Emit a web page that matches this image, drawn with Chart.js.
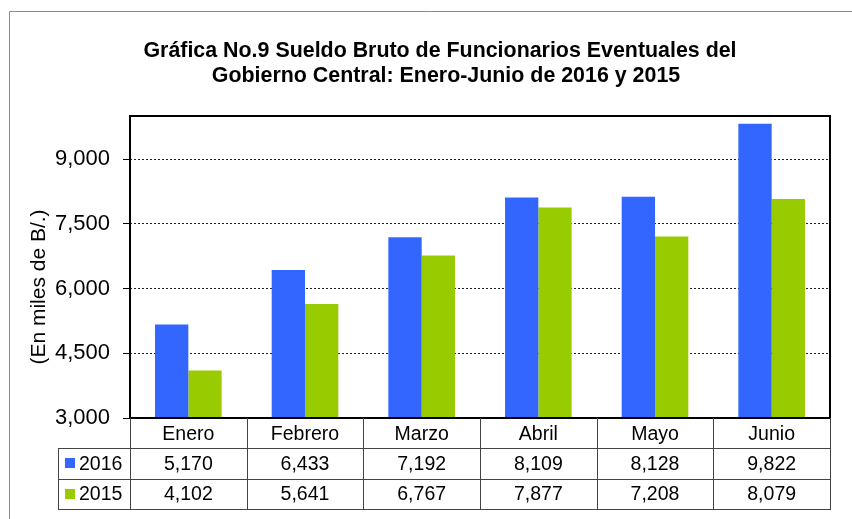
<!DOCTYPE html>
<html>
<head>
<meta charset="utf-8">
<script src="https://cdn.jsdelivr.net/npm/chart.js@4/dist/chart.umd.min.js"></script>
<style>
  html, body { margin: 0; padding: 0; background: #fff; }
  canvas { display: block; }
</style>
</head>
<body>
<canvas id="c" width="852" height="519"></canvas>
<script>
const titleLines = ["Gráfica No.9 Sueldo Bruto de Funcionarios Eventuales del", "Gobierno Central: Enero-Junio de 2016 y 2015"];
const yAxisTitle = "(En miles de B/.)";
const months = ["Enero", "Febrero", "Marzo", "Abril", "Mayo", "Junio"];
const seriesNames = ["2016", "2015"];
const values2016 = [5170, 6433, 7192, 8109, 8128, 9822];
const values2015 = [4102, 5641, 6767, 7877, 7208, 8079];
const yTicks = [3000, 4500, 6000, 7500, 9000];
const yMin = 3000, yMax = 10000;

const FONT = "'Liberation Sans', Arial, sans-serif";
const colors = ["#3366FF", "#99CC00"];
const fmt = v => v.toLocaleString('en-US');

const decor = {
  id: 'decor',
  afterDatasetsDraw(chart) {
    const ctx = chart.ctx, a = chart.chartArea;
    ctx.save();
    ctx.strokeStyle = '#000';
    ctx.lineWidth = 2;
    ctx.strokeRect(a.left, a.top, a.right - a.left, a.bottom - a.top);
    ctx.restore();
  },
  afterDraw(chart) {
    const ctx = chart.ctx, a = chart.chartArea, xs = chart.scales.x;
    ctx.save();
    // outer border
    ctx.strokeStyle = '#8a8a8a';
    ctx.lineWidth = 1;
    ctx.beginPath();
    ctx.moveTo(9.5, 519); ctx.lineTo(9.5, 11.5); ctx.lineTo(852, 11.5);
    ctx.stroke();

    // title
    ctx.fillStyle = '#000';
    ctx.textAlign = 'center';
    ctx.textBaseline = 'middle';
    ctx.font = "bold 21.4px " + FONT;
    ctx.fillText(titleLines[0], 440, 51);
    ctx.fillText(titleLines[1], 446, 76);

    // y axis title
    ctx.save();
    ctx.translate(39, 287);
    ctx.rotate(-Math.PI / 2);
    ctx.font = "21px " + FONT;
    ctx.fillText(yAxisTitle, 0, 0);
    ctx.restore();

    // data table
    const n = months.length;
    const cw = (a.right - a.left) / n;
    const rowH = 30.3;
    const y0 = a.bottom, y1 = y0 + rowH, y2 = y1 + rowH, y3 = y2 + rowH;
    const tl = 58;
    ctx.strokeStyle = '#444';
    ctx.lineWidth = 1;
    ctx.beginPath();
    const hl = (x1, x2, y) => { ctx.moveTo(x1, Math.round(y) + 0.5); ctx.lineTo(x2, Math.round(y) + 0.5); };
    const vl = (x, ya, yb) => { ctx.moveTo(Math.round(x) + 0.5, ya); ctx.lineTo(Math.round(x) + 0.5, yb); };
    hl(tl, a.right, y1); hl(tl, a.right, y2); hl(tl, a.right, y3);
    vl(tl, Math.round(y1), Math.round(y3) + 1);
    for (let i = 0; i <= n; i++) {
      const x = (i < n ? xs.getPixelForValue(i) - cw / 2 : xs.getPixelForValue(n - 1) + cw / 2);
      vl(x, y0, Math.round(y3) + 1);
    }
    ctx.stroke();

    ctx.fillStyle = '#000';
    ctx.font = "19.5px " + FONT;
    ctx.textAlign = 'center';
    ctx.textBaseline = 'middle';
    const series = [values2016, values2015];
    for (let i = 0; i < n; i++) {
      const cx = xs.getPixelForValue(i);
      ctx.fillText(months[i], cx, (y0 + y1) / 2 + 1);
      ctx.fillText(fmt(series[0][i]), cx, (y1 + y2) / 2 + 1);
      ctx.fillText(fmt(series[1][i]), cx, (y2 + y3) / 2 + 1);
    }
    // legend keys
    [[y1, y2], [y2, y3]].forEach((r, k) => {
      const cy = (r[0] + r[1]) / 2;
      ctx.fillStyle = colors[k];
      ctx.fillRect(65, Math.round(cy) - 5, 10, 10);
      ctx.fillStyle = '#000';
      ctx.textAlign = 'left';
      ctx.fillText(seriesNames[k], 79, cy + 1);
    });
    ctx.restore();
  }
};

new Chart(document.getElementById('c'), {
  type: 'bar',
  data: {
    labels: months,
    datasets: [
      { label: seriesNames[0], data: values2016, backgroundColor: colors[0], borderWidth: 0 },
      { label: seriesNames[1], data: values2015, backgroundColor: colors[1], borderWidth: 0 }
    ]
  },
  options: {
    responsive: false,
    animation: false,
    devicePixelRatio: 1,
    categoryPercentage: 0.571,
    barPercentage: 1.0,
    layout: { padding: { left: 0, right: 22, top: 116, bottom: 101 } },
    plugins: { legend: { display: false }, tooltip: { enabled: false }, title: { display: false } },
    scales: {
      x: { display: false },
      y: {
        min: yMin, max: yMax,
        afterBuildTicks: s => { s.ticks = yTicks.map(v => ({ value: v })); },
        afterFit: s => { s.width = 130; },
        ticks: { color: '#000', font: { family: FONT, size: 22 }, padding: 13, callback: v => fmt(v) },
        grid: { color: '#222', lineWidth: 1, tickLength: 7, tickColor: '#000', tickBorderDash: [1, 0], tickWidth: 1 },
        border: { display: false, dash: [2, 2] }
      }
    }
  },
  plugins: [decor]
});
</script>
</body>
</html>
